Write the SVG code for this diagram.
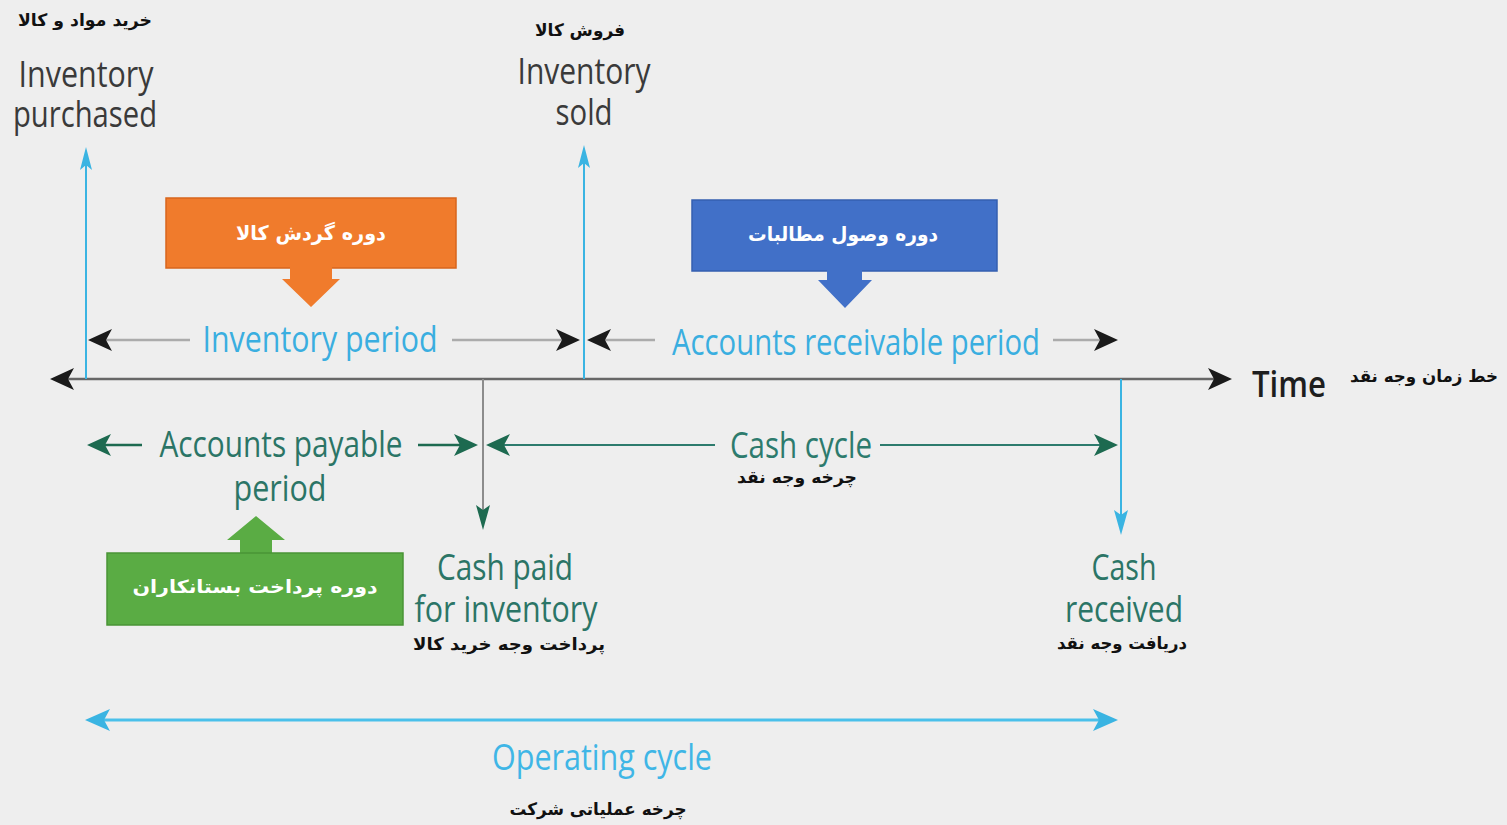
<svg xmlns="http://www.w3.org/2000/svg" width="1507" height="825" viewBox="0 0 1507 825">
<defs>
<style>
.en{font-family:"Open Sans","Liberation Sans",sans-serif;font-size:36px;}
.fa{font-family:"DejaVu Sans","Noto Sans",sans-serif;font-weight:bold;fill:#111;font-size:17px;}
.dark{fill:#3a3a3a;}
.cyan{fill:#3aaee0;}
.teal{fill:#2b7566;}
.wfa{font-family:"DejaVu Sans","Noto Sans",sans-serif;font-weight:bold;fill:#fff;}
.gl{stroke:#ababab;stroke-width:2.5;fill:none;}
.cl{stroke:#3ab4e2;stroke-width:2;fill:none;}
.gr{stroke:#1d6a50;stroke-width:2.5;fill:none;}
.ah{fill:#1a1a1a;}
.ahg{fill:#1d6a50;}
.ahc{fill:#3ab4e2;}
</style>
</defs>
<rect width="1507" height="825" fill="#eeeeee"/>

<g id="connectors">
  <!-- time axis -->
  <line x1="62" y1="379" x2="1222" y2="379" stroke="#676767" stroke-width="2.5"/>
  <polygon class="ah" points="50,379 74,368 68,379 74,390"/>
  <polygon class="ah" points="1232,379 1208,368 1214,379 1208,390"/>
  <!-- vertical event lines -->
  <line class="cl" x1="86" y1="379" x2="86" y2="160"/>
  <polygon class="ahc" points="86,147 80,170 86,165 92,170"/>
  <line class="cl" x1="584" y1="379" x2="584" y2="158"/>
  <polygon class="ahc" points="584,145 578,168 584,163 590,168"/>
  <line class="cl" x1="1121" y1="379" x2="1121" y2="522"/>
  <polygon class="ahc" points="1121,535 1114,510 1121,515 1128,510"/>
  <line x1="483" y1="379" x2="483" y2="515" stroke="#8c8c8c" stroke-width="2"/>
  <polygon class="ahg" points="483,530 476,505 483,510 490,505"/>
  <!-- inventory period -->
  <line class="gl" x1="106" y1="340" x2="190" y2="340"/>
  <line class="gl" x1="452" y1="340" x2="562" y2="340"/>
  <polygon class="ah" points="88,340 112,329 106,340 112,351"/>
  <polygon class="ah" points="580,340 556,329 562,340 556,351"/>
  <!-- accounts receivable period -->
  <line class="gl" x1="604" y1="340" x2="655" y2="340"/>
  <line class="gl" x1="1053" y1="340" x2="1100" y2="340"/>
  <polygon class="ah" points="587,340 611,329 605,340 611,351"/>
  <polygon class="ah" points="1118,340 1094,329 1100,340 1094,351"/>
  <!-- accounts payable period -->
  <line class="gr" x1="105" y1="445" x2="142" y2="445"/>
  <line class="gr" x1="418" y1="445" x2="460" y2="445"/>
  <polygon class="ahg" points="87,445 111,434 105,445 111,456"/>
  <polygon class="ahg" points="478,445 454,434 460,445 454,456"/>
  <!-- cash cycle -->
  <line x1="504" y1="445" x2="715" y2="445" stroke="#2d7b6d" stroke-width="2"/>
  <line x1="880" y1="445" x2="1100" y2="445" stroke="#2d7b6d" stroke-width="2"/>
  <polygon class="ahg" points="486,445 510,434 504,445 510,456"/>
  <polygon class="ahg" points="1118,445 1094,434 1100,445 1094,456"/>
  <!-- operating cycle -->
  <line x1="100" y1="720" x2="1104" y2="720" stroke="#4ac0ea" stroke-width="3"/>
  <polygon class="ahc" points="85,720 110,709 104,720 110,731"/>
  <polygon class="ahc" points="1118,720 1093,709 1099,720 1093,731"/>
</g>

<g id="inventory-purchased">
  <text class="fa" x="85" y="26" text-anchor="middle" textLength="134" lengthAdjust="spacingAndGlyphs">خرید مواد و کالا</text>
  <text class="en dark" x="86" y="87" text-anchor="middle" textLength="135" lengthAdjust="spacingAndGlyphs">Inventory</text>
  <text class="en dark" x="85" y="127" text-anchor="middle" textLength="144" lengthAdjust="spacingAndGlyphs">purchased</text>
</g>

<g id="inventory-sold">
  <text class="fa" x="580" y="36" text-anchor="middle" textLength="90" lengthAdjust="spacingAndGlyphs">فروش کالا</text>
  <text class="en dark" x="584" y="84" text-anchor="middle" textLength="133" lengthAdjust="spacingAndGlyphs">Inventory</text>
  <text class="en dark" x="584" y="125" text-anchor="middle" textLength="57" lengthAdjust="spacingAndGlyphs">sold</text>
</g>

<g id="inventory-turnover-box">
  <rect x="166" y="198" width="290" height="70" fill="#f07b2c" stroke="#d8651c" stroke-width="1.5"/>
  <polygon points="290,267 332,267 332,279 340,279 311,307 282,279 290,279" fill="#f07b2c"/>
  <text class="wfa" x="311" y="240" font-size="20" text-anchor="middle" textLength="150" lengthAdjust="spacingAndGlyphs">دوره گردش کالا</text>
</g>

<g id="receivable-box">
  <rect x="692" y="200" width="305" height="71" fill="#4170c8" stroke="#345fb0" stroke-width="1.5"/>
  <polygon points="827,270 862,270 862,280 872,280 845,308 818,280 827,280" fill="#4170c8"/>
  <text class="wfa" x="843" y="241" font-size="20" text-anchor="middle" textLength="190" lengthAdjust="spacingAndGlyphs">دوره وصول مطالبات</text>
</g>

<g id="inventory-period">
  <text class="en cyan" x="320" y="352" text-anchor="middle" textLength="235" lengthAdjust="spacingAndGlyphs">Inventory period</text>
</g>

<g id="accounts-receivable-period">
  <text class="en cyan" x="856" y="355" text-anchor="middle" textLength="368" lengthAdjust="spacingAndGlyphs">Accounts receivable period</text>
</g>

<g id="time">
  <text class="en" x="1252" y="397" fill="#1e1e1e" font-weight="600" textLength="74" lengthAdjust="spacingAndGlyphs">Time</text>
  <text class="fa" x="1424" y="382" text-anchor="middle" textLength="148" lengthAdjust="spacingAndGlyphs">خط زمان وجه نقد</text>
</g>

<g id="accounts-payable-period">
  <text class="en teal" x="281" y="457" text-anchor="middle" textLength="243" lengthAdjust="spacingAndGlyphs">Accounts payable</text>
  <text class="en teal" x="280" y="501" text-anchor="middle" textLength="93" lengthAdjust="spacingAndGlyphs">period</text>
</g>

<g id="cash-cycle">
  <text class="en" x="801" y="458" fill="#2d7b6d" text-anchor="middle" textLength="142" lengthAdjust="spacingAndGlyphs">Cash cycle</text>
  <text class="fa" x="797" y="483" text-anchor="middle" textLength="120" lengthAdjust="spacingAndGlyphs">چرخه وجه نقد</text>
</g>

<g id="payable-box">
  <polygon points="240,554 240,540 227,540 256,516 285,540 272,540 272,554" fill="#5aac44"/>
  <rect x="107" y="553" width="296" height="72" fill="#5aac44" stroke="#4a9436" stroke-width="1.5"/>
  <text class="wfa" x="255" y="593" font-size="18" text-anchor="middle" textLength="245" lengthAdjust="spacingAndGlyphs">دوره پرداخت بستانکاران</text>
</g>

<g id="cash-paid">
  <text class="en teal" x="505" y="580" text-anchor="middle" textLength="136" lengthAdjust="spacingAndGlyphs">Cash paid</text>
  <text class="en teal" x="506" y="622" text-anchor="middle" textLength="183" lengthAdjust="spacingAndGlyphs">for inventory</text>
  <text class="fa" x="509" y="650" text-anchor="middle" textLength="192" lengthAdjust="spacingAndGlyphs">پرداخت وجه خرید کالا</text>
</g>

<g id="cash-received">
  <text class="en teal" x="1124" y="580" text-anchor="middle" textLength="65" lengthAdjust="spacingAndGlyphs">Cash</text>
  <text class="en teal" x="1124" y="622" text-anchor="middle" textLength="118" lengthAdjust="spacingAndGlyphs">received</text>
  <text class="fa" x="1122" y="649" text-anchor="middle" textLength="130" lengthAdjust="spacingAndGlyphs">دریافت وجه نقد</text>
</g>

<g id="operating-cycle">
  <text class="en" x="602" y="770" fill="#3fb6e6" text-anchor="middle" textLength="220" lengthAdjust="spacingAndGlyphs">Operating cycle</text>
  <text class="fa" x="598" y="815" text-anchor="middle" textLength="177" lengthAdjust="spacingAndGlyphs">چرخه عملیاتی شرکت</text>
</g>
</svg>
